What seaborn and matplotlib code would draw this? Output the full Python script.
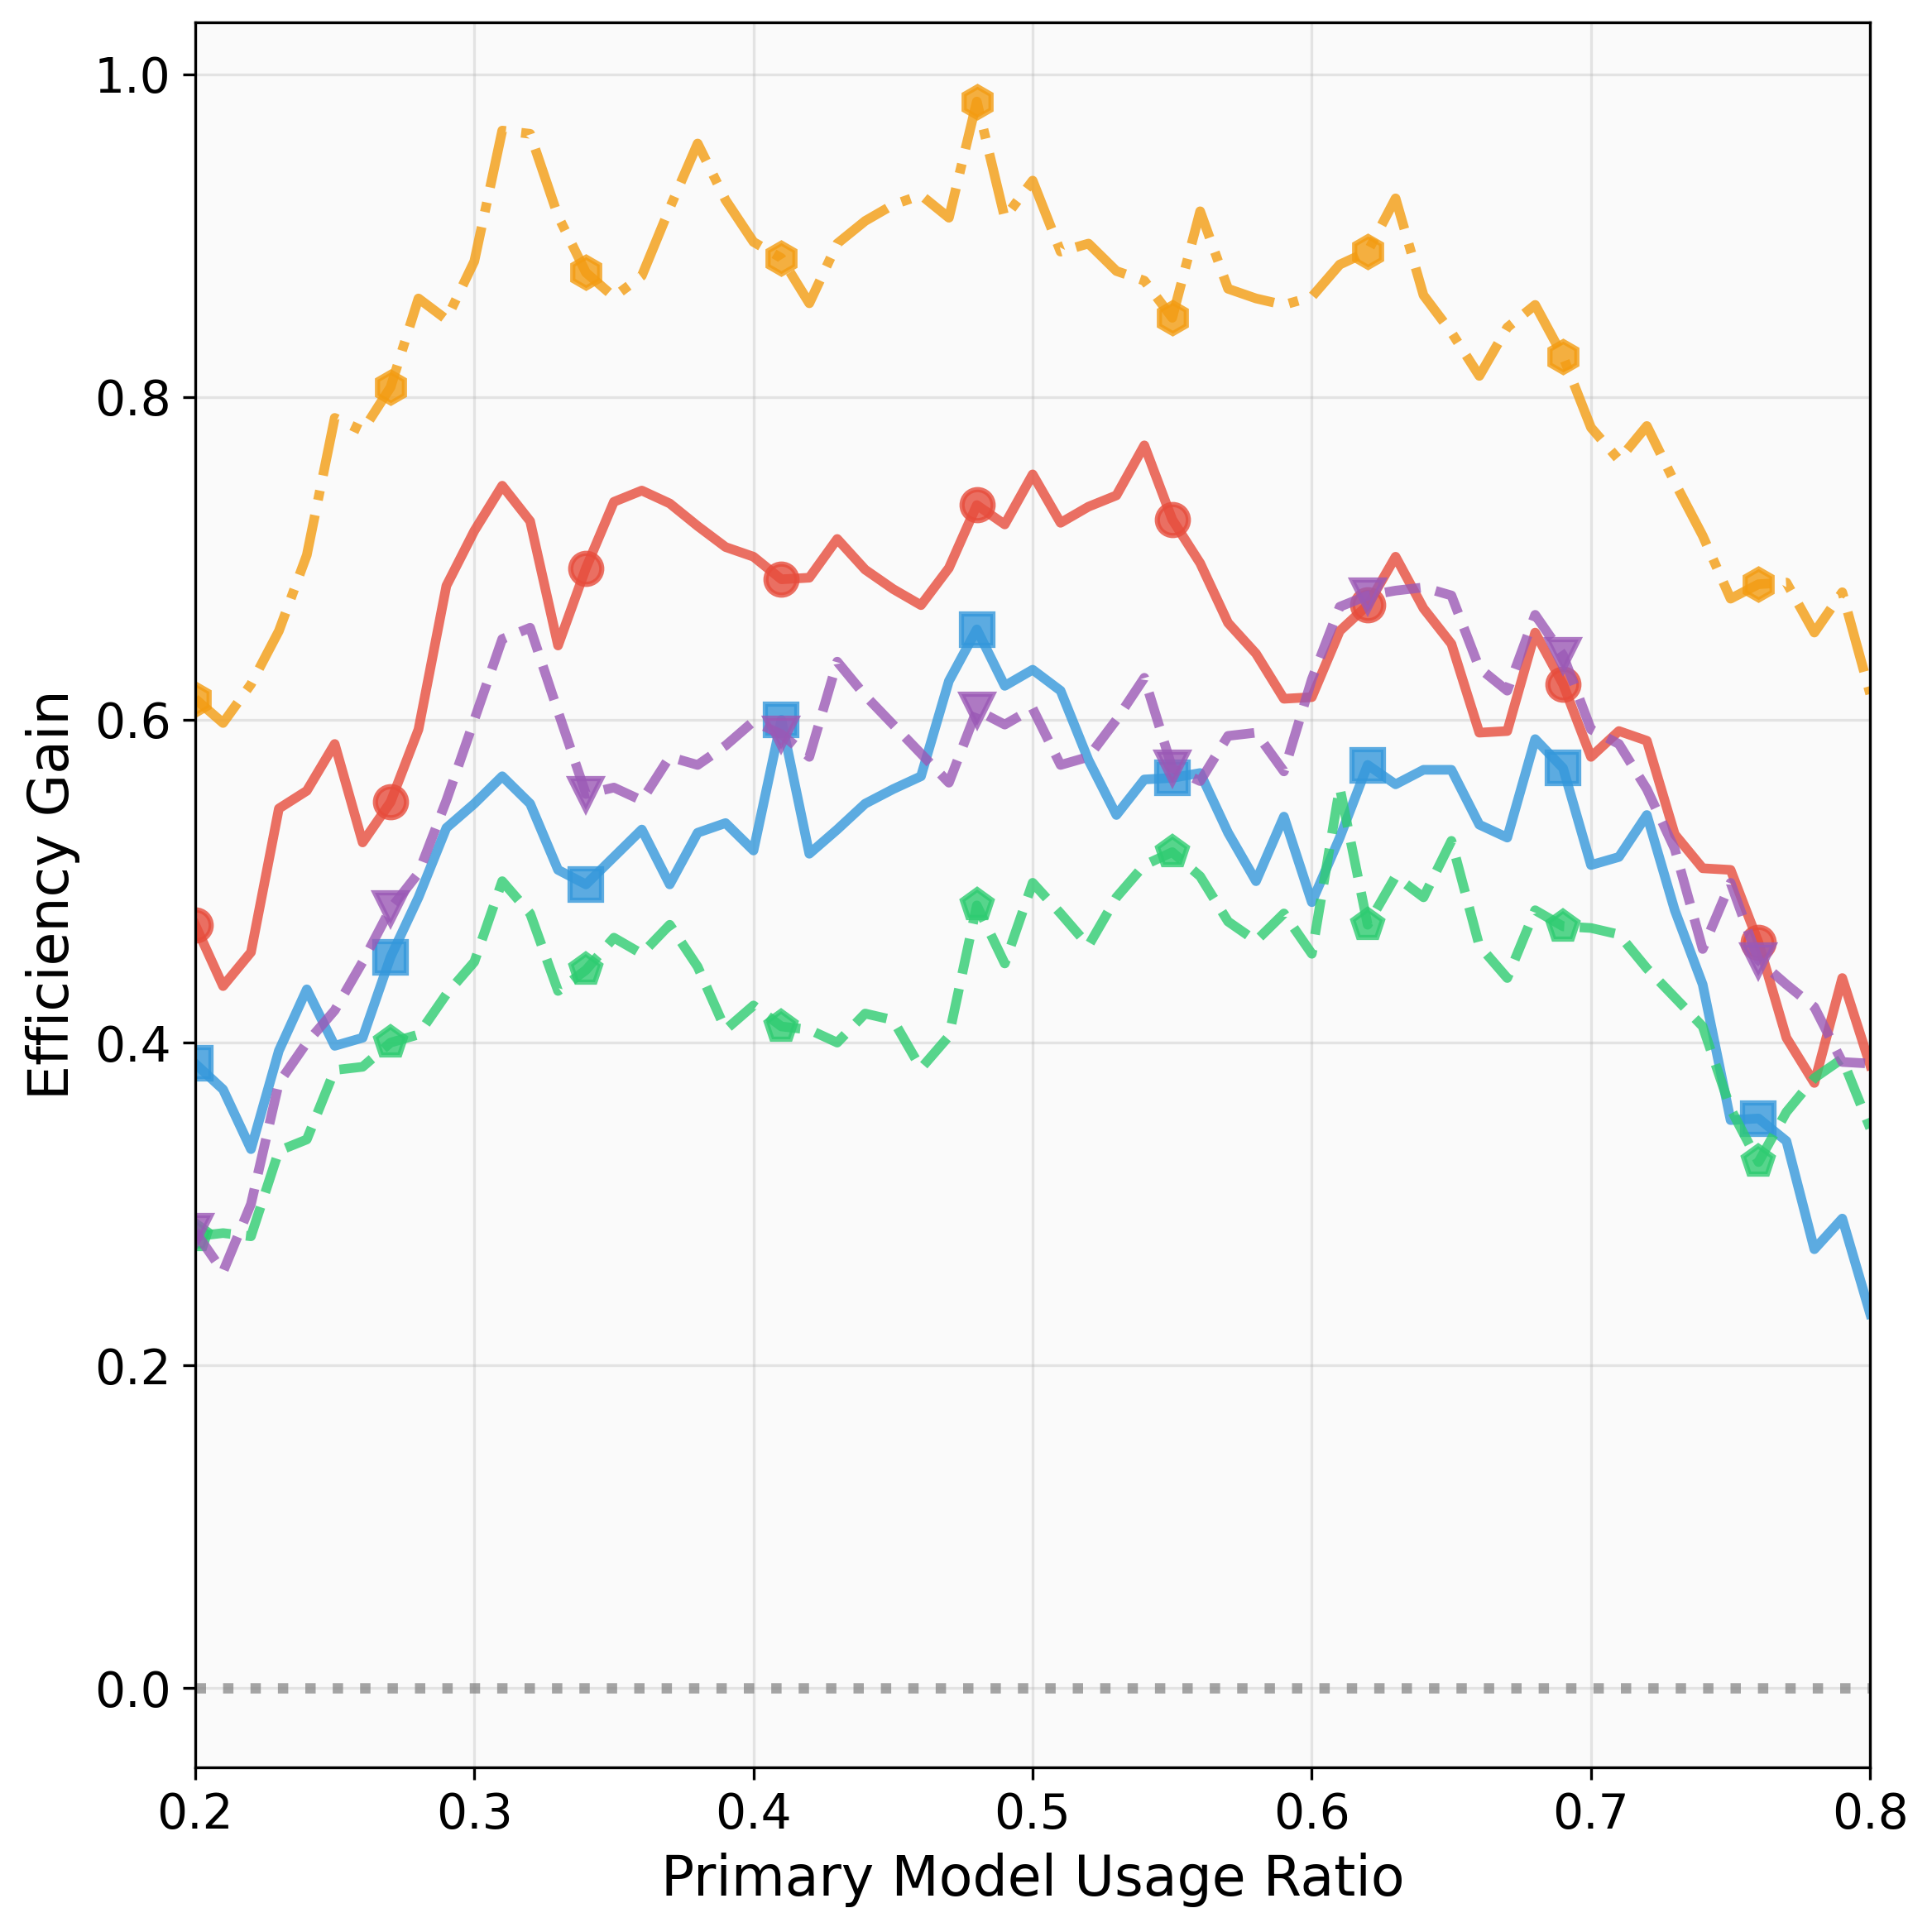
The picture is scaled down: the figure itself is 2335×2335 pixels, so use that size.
import numpy as np
import pandas as pd
import matplotlib
matplotlib.use("Agg")
import matplotlib.pyplot as plt
import seaborn as sns

# primary model usage ratio, 0.20 .. 0.80 in steps of 0.01
ratio = np.round(np.arange(20, 81) / 100, 2)

red_gain = [0.473, 0.435, 0.456, 0.545, 0.556, 0.585, 0.524, 0.549, 0.594, 0.683,
            0.717, 0.745, 0.723, 0.646, 0.694, 0.735, 0.742, 0.734, 0.720, 0.707,
            0.701, 0.687, 0.688, 0.712, 0.693, 0.681, 0.671, 0.694, 0.733, 0.721,
            0.752, 0.722, 0.732, 0.739, 0.770, 0.724, 0.697, 0.660, 0.641, 0.613,
            0.614, 0.655, 0.671, 0.701, 0.669, 0.647, 0.592, 0.593, 0.654, 0.622,
            0.577, 0.593, 0.587, 0.529, 0.508, 0.507, 0.462, 0.403, 0.375, 0.440,
            0.386]

orange_gain = [0.613, 0.598, 0.622, 0.655, 0.702, 0.787, 0.779, 0.806, 0.861, 0.848,
               0.884, 0.965, 0.963, 0.912, 0.877, 0.862, 0.875, 0.917, 0.957, 0.922,
               0.896, 0.886, 0.858, 0.895, 0.909, 0.919, 0.925, 0.911, 0.983, 0.911,
               0.934, 0.890, 0.895, 0.878, 0.872, 0.849, 0.915, 0.867, 0.861, 0.857,
               0.862, 0.882, 0.890, 0.923, 0.863, 0.840, 0.813, 0.843, 0.857, 0.825,
               0.781, 0.761, 0.782, 0.747, 0.714, 0.675, 0.684, 0.685, 0.654, 0.679,
               0.616]

purple_gain = [0.283, 0.258, 0.300, 0.375, 0.400, 0.420, 0.450, 0.483, 0.505, 0.550,
               0.600, 0.650, 0.657, 0.605, 0.554, 0.558, 0.550, 0.577, 0.572, 0.584,
               0.599, 0.591, 0.577, 0.636, 0.615, 0.597, 0.579, 0.561, 0.606, 0.597,
               0.607, 0.572, 0.577, 0.600, 0.626, 0.570, 0.562, 0.590, 0.592, 0.568,
               0.625, 0.670, 0.677, 0.680, 0.682, 0.677, 0.632, 0.618, 0.665, 0.640,
               0.594, 0.585, 0.557, 0.520, 0.458, 0.499, 0.451, 0.436, 0.422, 0.388,
               0.387]

blue_gain = [0.387, 0.371, 0.334, 0.395, 0.433, 0.398, 0.403, 0.453, 0.490, 0.533,
             0.548, 0.565, 0.548, 0.507, 0.498, 0.515, 0.532, 0.498, 0.530, 0.536,
             0.519, 0.600, 0.517, 0.532, 0.548, 0.557, 0.565, 0.624, 0.656, 0.621,
             0.631, 0.618, 0.575, 0.541, 0.563, 0.564, 0.567, 0.530, 0.500, 0.540,
             0.487, 0.527, 0.572, 0.560, 0.569, 0.569, 0.535, 0.527, 0.588, 0.570,
             0.510, 0.515, 0.541, 0.482, 0.436, 0.352, 0.353, 0.339, 0.272, 0.291,
             0.232]

green_gain = [0.280, 0.282, 0.280, 0.333, 0.340, 0.383, 0.385, 0.400, 0.405, 0.430,
              0.450, 0.500, 0.480, 0.432, 0.445, 0.465, 0.455, 0.473, 0.447, 0.408,
              0.423, 0.410, 0.408, 0.400, 0.418, 0.414, 0.384, 0.404, 0.485, 0.449,
              0.499, 0.480, 0.460, 0.490, 0.510, 0.518, 0.503, 0.475, 0.463, 0.480,
              0.455, 0.558, 0.473, 0.503, 0.490, 0.525, 0.460, 0.440, 0.482, 0.472,
              0.471, 0.467, 0.446, 0.428, 0.410, 0.359, 0.326, 0.357, 0.378, 0.390,
              0.347]

series = [
    (red_gain, "#e74c3c", "-", "o"),
    (blue_gain, "#3498db", "-", "s"),
    (green_gain, "#2ecc71", "--", "p"),
    (purple_gain, "#9b59b6", "--", "v"),
    (orange_gain, "#f39c12", "-.", "h"),
]

fig = plt.figure(figsize=(2335 / 300, 2335 / 300), dpi=300)
ax = fig.add_axes([0.101, 0.0852, 0.867, 0.9032])
ax.set_facecolor("#fafafa")

for gain, color, ls, mk in series:
    df = pd.DataFrame({"ratio": ratio, "gain": gain})
    sns.lineplot(data=df, x="ratio", y="gain", ax=ax, color=color,
                 linestyle=ls, linewidth=2.8, marker=mk, markersize=9,
                 markeredgecolor=color, markeredgewidth=1.5,
                 markevery=7, alpha=0.8)

ax.axhline(0, color="gray", linestyle=":", linewidth=3, alpha=0.7)
ax.grid(True, alpha=0.3)
ax.set_xlim(0.2, 0.8)
ax.set_ylim(-0.049, 1.032)
ax.set_xlabel("Primary Model Usage Ratio", fontsize=16)
ax.set_ylabel("Efficiency Gain", fontsize=16)
ax.tick_params(labelsize=14)

fig.savefig("out.png", dpi=300)
